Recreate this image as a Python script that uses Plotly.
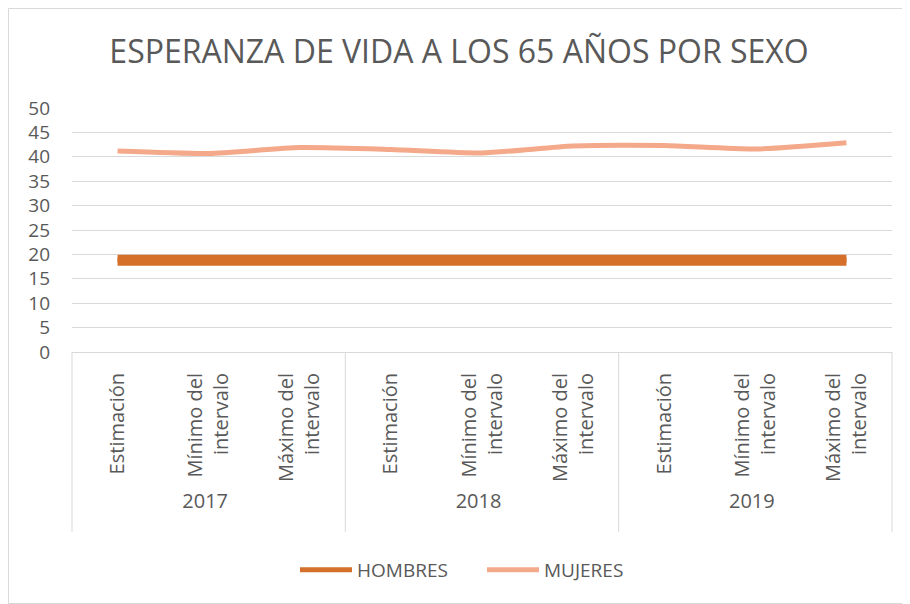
import plotly.graph_objects as go

years = ["2017", "2017", "2017", "2018", "2018", "2018", "2019", "2019", "2019"]
subcats = ["Estimación", "Mínimo del<br>intervalo", "Máximo del<br>intervalo"] * 3
hombres = [18.8, 18.8, 18.8, 18.8, 18.8, 18.8, 18.8, 18.8, 18.8]
mujeres = [41.2, 40.7, 41.9, 41.5, 40.8, 42.2, 42.3, 41.6, 42.9]

FONT = "Open Sans"
TXT = "#595959"
GRID = "#d9d9d9"

W, H = 902, 596          # page body adds an 8px margin
L, T, PW, PH = 64, 100, 820, 244
BOT = T + PH

fig = go.Figure()
# thin copy gives the legend a slim sample; the thick band drawn over it hides it on the plot
fig.add_trace(go.Scatter(x=[years, subcats], y=hombres, name="HOMBRES", mode="lines",
                         legendgroup="h", line=dict(color="#D4702A", width=5)))
fig.add_trace(go.Scatter(x=[years, subcats], y=hombres, name="HOMBRES", mode="lines",
                         legendgroup="h", showlegend=False,
                         line=dict(color="#D4702A", width=11)))
fig.add_trace(go.Scatter(x=[years, subcats], y=mujeres, name="MUJERES", mode="lines",
                         line=dict(color="#F4A98A", width=5, shape="spline", smoothing=0.6)))

fig.update_layout(
    width=W, height=H,
    margin=dict(l=L, r=W - L - PW, t=T, b=H - T - PH),
    paper_bgcolor="white", plot_bgcolor="white",
    font=dict(family=FONT, color=TXT, size=19),
    title=dict(text="ESPERANZA DE VIDA A LOS 65 AÑOS POR SEXO", x=0.5, xanchor="center",
               y=1 - 44 / H, yanchor="middle", font=dict(size=32, color=TXT, family=FONT)),
    showlegend=True,
    legend=dict(orientation="h", x=0.5, xanchor="center", y=(BOT - 562) / PH, yanchor="middle",
                font=dict(size=19, color=TXT), itemwidth=52, entrywidth=120,
                traceorder="normal"),
    xaxis=dict(type="multicategory", tickangle=-90, showgrid=False, showline=True,
               linecolor=GRID, linewidth=1, ticks="", showdividers=False, automargin=False,
               range=[-0.5, 8.5], ticklabelstandoff=12,
               tickfont=dict(size=20, color=TXT)),
    yaxis=dict(range=[0, 50], dtick=5, showgrid=True, gridcolor=GRID, gridwidth=1,
               zeroline=False, showline=False, ticks="", automargin=False,
               ticklabelstandoff=21, tickfont=dict(size=19, color=TXT)),
)
# dividers of the category axis (edges and between year groups)
for xp in (0, 1 / 3, 2 / 3, 1):
    fig.add_shape(type="line", xref="paper", yref="paper", x0=xp, x1=xp,
                  y0=0, y1=(BOT - 524) / PH, line=dict(color=GRID, width=1))
# chart-area border
fig.add_shape(type="rect", xref="paper", yref="paper",
              x0=(0.5 - L) / PW, x1=(W - 0.5 - L) / PW,
              y0=(BOT - (H - 0.5)) / PH, y1=(BOT - 0.5) / PH,
              line=dict(color=GRID, width=1), fillcolor="rgba(0,0,0,0)", layer="below")

fig.write_html("out.html")
